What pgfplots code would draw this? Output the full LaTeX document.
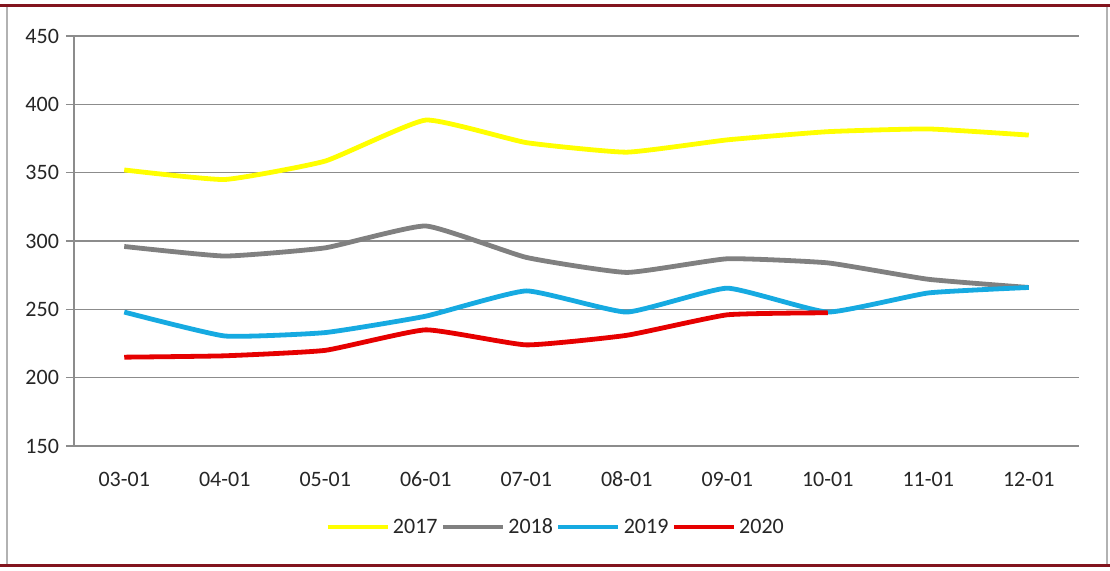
\documentclass[border=0pt]{standalone}
\usepackage{pgfplots}
\pgfplotsset{compat=1.18}
\usepackage{fontspec}
\setmainfont{Carlito}
\definecolor{c17}{RGB}{255,255,0}
\definecolor{c18}{RGB}{128,128,128}
\definecolor{c19}{RGB}{22,170,225}
\definecolor{c20}{RGB}{230,0,0}
\definecolor{gridc}{RGB}{140,140,140}
\definecolor{frame}{RGB}{130,20,30}
\begin{document}
\begin{tikzpicture}[x=1pt,y=1pt]
\useasboundingbox (-37,-62) rectangle (518,223);
\fill[white] (-37,-62) rectangle (518,223);
\draw[gray!60,line width=0.6pt] (-33.5,-59.5) -- (-33.5,220.5);
\draw[gray!60,line width=0.6pt] (516.5,-59.5) -- (516.5,220.5);
\draw[frame,line width=1.5pt] (-37,220.5) -- (518,220.5);
\draw[frame,line width=1.5pt] (-37,-59.5) -- (518,-59.5);
\begin{axis}[
  at={(0,0)}, anchor=south west,
  scale only axis, width=502.5pt, height=205pt,
  xmin=-0.5, xmax=9.5, ymin=150, ymax=450,
  ytick={150,200,...,450},
  xtick={0,...,9},
  xticklabels={03-01,04-01,05-01,06-01,07-01,08-01,09-01,10-01,11-01,12-01},
  minor xtick={-0.5,0.5,...,9.5},
  axis x line*=bottom, axis y line*=left,
  axis line style={gridc, line width=0.8pt, -},
  ymajorgrids, grid style={gridc, line width=0.8pt},
  tick align=outside,
  major tick length=4pt, minor tick length=4pt,
  xtick style={draw=none},
  minor x tick style={gridc, line width=0.8pt},
  ytick style={gridc, line width=0.8pt},
  tick label style={font=\fontsize{11}{13}\selectfont, text=black!85},
  xticklabel style={yshift=-5pt, text height=1.6ex, text depth=0.25ex},
  /pgf/number format/assume math mode=true,
  legend columns=4,
  legend style={at={(axis description cs:0.4796,-0.1976)}, anchor=center, draw=none, fill=none,
    font=\fontsize{11}{13}\selectfont, text=black!85,
    nodes={inner xsep=1.5pt, text height=1.6ex, text depth=0.25ex},
    /tikz/every even column/.append style={column sep=0pt},
    /tikz/every odd column/.append style={column sep=0pt}},
  legend image code/.code={\draw[#1, line width=2.4pt] (0pt,0pt) -- (30pt,0pt);},
  every axis plot/.append style={line width=2.4pt, smooth, tension=0.25, no markers},
]
\addplot[c17] coordinates {(0,352) (1,345) (2,358.5) (3,388.5) (4,372) (5,365) (6,374) (7,380) (8,382) (9,377.5)};
\addlegendentry{2017}
\addplot[c18] coordinates {(0,296) (1,289) (2,295) (3,311) (4,288) (5,277) (6,287) (7,284) (8,272) (9,266)};
\addlegendentry{2018}
\addplot[c19] coordinates {(0,248) (1,230.5) (2,233) (3,245) (4,263.5) (5,248) (6,265.5) (7,248) (8,262) (9,266)};
\addlegendentry{2019}
\addplot[c20] coordinates {(0,215) (1,216) (2,220) (3,235) (4,224) (5,231) (6,246) (7,247.5)};
\addlegendentry{2020}
\end{axis}
\end{tikzpicture}
\end{document}
